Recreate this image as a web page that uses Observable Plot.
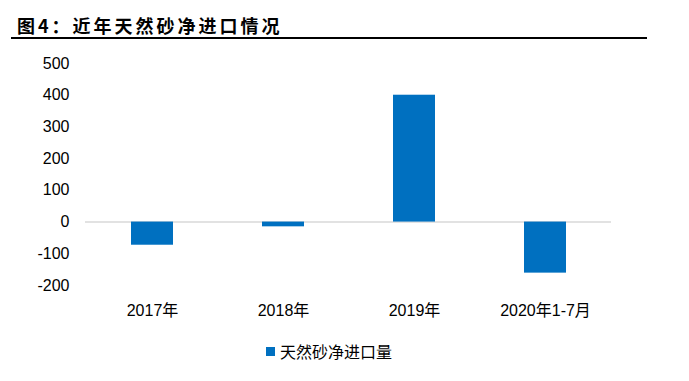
<!DOCTYPE html>
<html>
<head>
<meta charset="utf-8">
<script src="https://cdn.jsdelivr.net/npm/d3@7"></script>
<script src="https://cdn.jsdelivr.net/npm/@observablehq/plot@0.6"></script>
<style>
  html, body { margin: 0; padding: 0; background: #fff; }
  #wrap { position: relative; width: 689px; height: 381px; overflow: hidden; }
  #title {
    position: absolute; left: 11px; top: 13px; width: 630px; height: 24px;
    border-bottom: 2px solid #000;
    font-family: "Noto Sans CJK SC", sans-serif; font-weight: bold; font-size: 18px;
    line-height: 24px; letter-spacing: 3px; padding-left: 6px; box-sizing: content-box;
    color: #000; white-space: nowrap;
  }
  #chart { position: absolute; left: 0; top: 45px; }
  #legend {
    position: absolute; left: 266px; top: 341px; height: 20px;
    display: flex; align-items: center;
    font-family: "Noto Sans CJK SC", sans-serif; font-size: 16px; color: #000;
  }
  #legend .sw { width: 9px; height: 9px; background: #0070C0; margin-right: 5px; }
</style>
</head>
<body>
<div id="wrap">
  <div id="title">图4：近年天然砂净进口情况</div>
  <div id="chart"></div>
  <div id="legend"><span class="sw"></span><span>天然砂净进口量</span></div>
</div>
<script>
const categories = ["2017年", "2018年", "2019年", "2020年1-7月"];
const values = [-73, -15, 400, -161];
const yTicks = [-200, -100, 0, 100, 200, 300, 400, 500];

const data = categories.map((c, i) => ({cat: c, value: values[i]}));

const chart = Plot.plot({
  width: 689,
  height: 300,
  marginTop: 18,
  marginBottom: 60,
  marginLeft: 85,
  marginRight: 78,
  style: {fontFamily: "'Liberation Sans', 'Noto Sans CJK SC', sans-serif", fontSize: "16px", color: "#000", background: "#fff"},
  x: {domain: categories, paddingInner: 0.68, paddingOuter: 0.34, label: null},
  y: {domain: [-200, 500], label: null},
  marks: [
    Plot.ruleY([0], {stroke: "#d9d9d9", strokeWidth: 1.5}),
    Plot.barY(data, {x: "cat", y: "value", fill: "#0070C0"}),
    Plot.axisX({tickSize: 0, tickPadding: 19, label: null}),
    Plot.axisY({ticks: yTicks, tickSize: 0, tickPadding: 16, label: null,
      tickFormat: d => d < 0 ? "-" + Math.abs(d) : String(d)})
  ]
});
document.getElementById("chart").appendChild(chart);
</script>
</body>
</html>
